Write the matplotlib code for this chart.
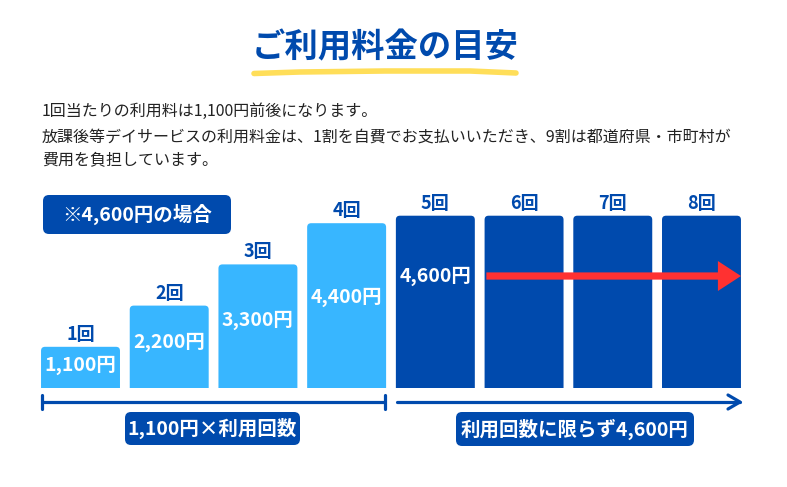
import matplotlib
matplotlib.use("Agg")
import matplotlib.pyplot as plt
from matplotlib.patches import FancyBboxPatch, Rectangle

plt.rcParams['font.family'] = ['Noto Sans CJK JP', 'DejaVu Sans']

# data
counts = ['1回', '2回', '3回', '4回', '5回', '6回', '7回', '8回']
fees = [1100, 2200, 3300, 4400, 4600, 4600, 4600, 4600]
fee_labels = ['1,100円', '2,200円', '3,300円', '4,400円', '4,600円', '', '', '']
capped = [False, False, False, False, True, True, True, True]

title = 'ご利用料金の目安'
notes = ['1回当たりの利用料は1,100円前後になります。',
         '放課後等デイサービスの利用料金は、1割を自費でお支払いいただき、9割は都道府県・市町村が',
         '費用を負担しています。']
case_label = '※4,600円の場合'
left_caption = '1,100円×利用回数'
right_caption = '利用回数に限らず4,600円'

DARK = '#004aad'
LIGHT = '#38b6ff'
RED = '#ff3131'
YELLOW = '#ffde59'

W, H = 787, 487
fig = plt.figure(figsize=(W / 100, H / 100), dpi=100)

# overlay in pixel units for the decoration
deco = fig.add_axes([0, 0, 1, 1])
deco.set_xlim(0, W)
deco.set_ylim(H, 0)
deco.axis('off')

# bar axes: index on x, yen on y
ax = fig.add_axes([0, 0, 1, 1])
ax.set_xlim(-0.9075, 7.964)
ax.set_ylim(-2643, 10359)
ax.axis('off')
ax.patch.set_alpha(0)

# title + underline
deco.text(385, 48, title, fontsize=24, fontweight='bold', color=DARK,
          ha='center', va='center')
deco.plot([254, 300, 385, 470, 516], [73.5, 72, 71, 71, 73], color=YELLOW,
          lw=4, solid_capstyle='round')

for i, line in enumerate(notes):
    deco.text(42, [111, 137, 160][i], line, fontsize=11.5, color='#222222',
              ha='left', va='center')

def box(x0, y0, x1, y1, text, fs=14):
    deco.add_patch(FancyBboxPatch((x0, y0), x1 - x0, y1 - y0,
                                  boxstyle='round,pad=0,rounding_size=6',
                                  fc=DARK, ec='none'))
    deco.text((x0 + x1) / 2, (y0 + y1) / 2, text, fontsize=fs,
              fontweight='bold', color='white', ha='center', va='center')

box(43, 195, 231, 234, case_label)
box(125, 412, 300, 445, left_caption)
box(456, 412, 694, 446, right_caption)

# bars
width = 0.89
xs = list(range(len(fees)))
clip = Rectangle((-2, 0), 20, 20000, transform=ax.transData)
rx = 4 / 88.71
aspect = 88.71 / (41.2 / 1100)
for x, v, c in zip(xs, fees, capped):
    p = FancyBboxPatch((x - width / 2, -300), width, v + 300,
                       boxstyle='round,pad=0,rounding_size=%f' % rx,
                       mutation_aspect=aspect,
                       fc=DARK if c else LIGHT, ec='none')
    ax.add_patch(p)
    p.set_clip_path(clip)
    ax.annotate(counts[x], (x, v), xytext=(0, 3),
                textcoords='offset pixels', ha='center', va='bottom',
                fontsize=13, fontweight='bold', color=DARK)

arrow_y = 0.65 * max(fees)
for x, v, c, lab in zip(xs, fees, capped, fee_labels):
    if not lab:
        continue
    y = arrow_y if c else 0.55 * v
    ax.text(x, y, lab, fontsize=14, fontweight='bold', color='white',
            ha='center', va='center')

# red arrow across the capped bars
first_cap = capped.index(True)
ax.annotate('', xy=(xs[-1] + width / 2, arrow_y),
            xytext=(first_cap + 1 - width / 2 + 0.02, arrow_y),
            arrowprops=dict(arrowstyle='simple,head_length=0.83,head_width=1.08,tail_width=0.26',
                            mutation_scale=20, color=RED, lw=0,
                            shrinkA=0, shrinkB=0))

# brackets under the bars
deco.plot([42, 385], [402, 402], color=DARK, lw=2.3, solid_capstyle='butt')
deco.plot([42, 42], [395, 409], color=DARK, lw=2.3, solid_capstyle='round')
deco.plot([385, 385], [395, 409], color=DARK, lw=2.3, solid_capstyle='round')
deco.plot([397, 740], [402, 402], color=DARK, lw=2.3, solid_capstyle='round')
deco.plot([728, 740, 728], [395, 402, 409], color=DARK, lw=2.3,
          solid_capstyle='round', solid_joinstyle='round')

fig.savefig('out.png', dpi=100)
